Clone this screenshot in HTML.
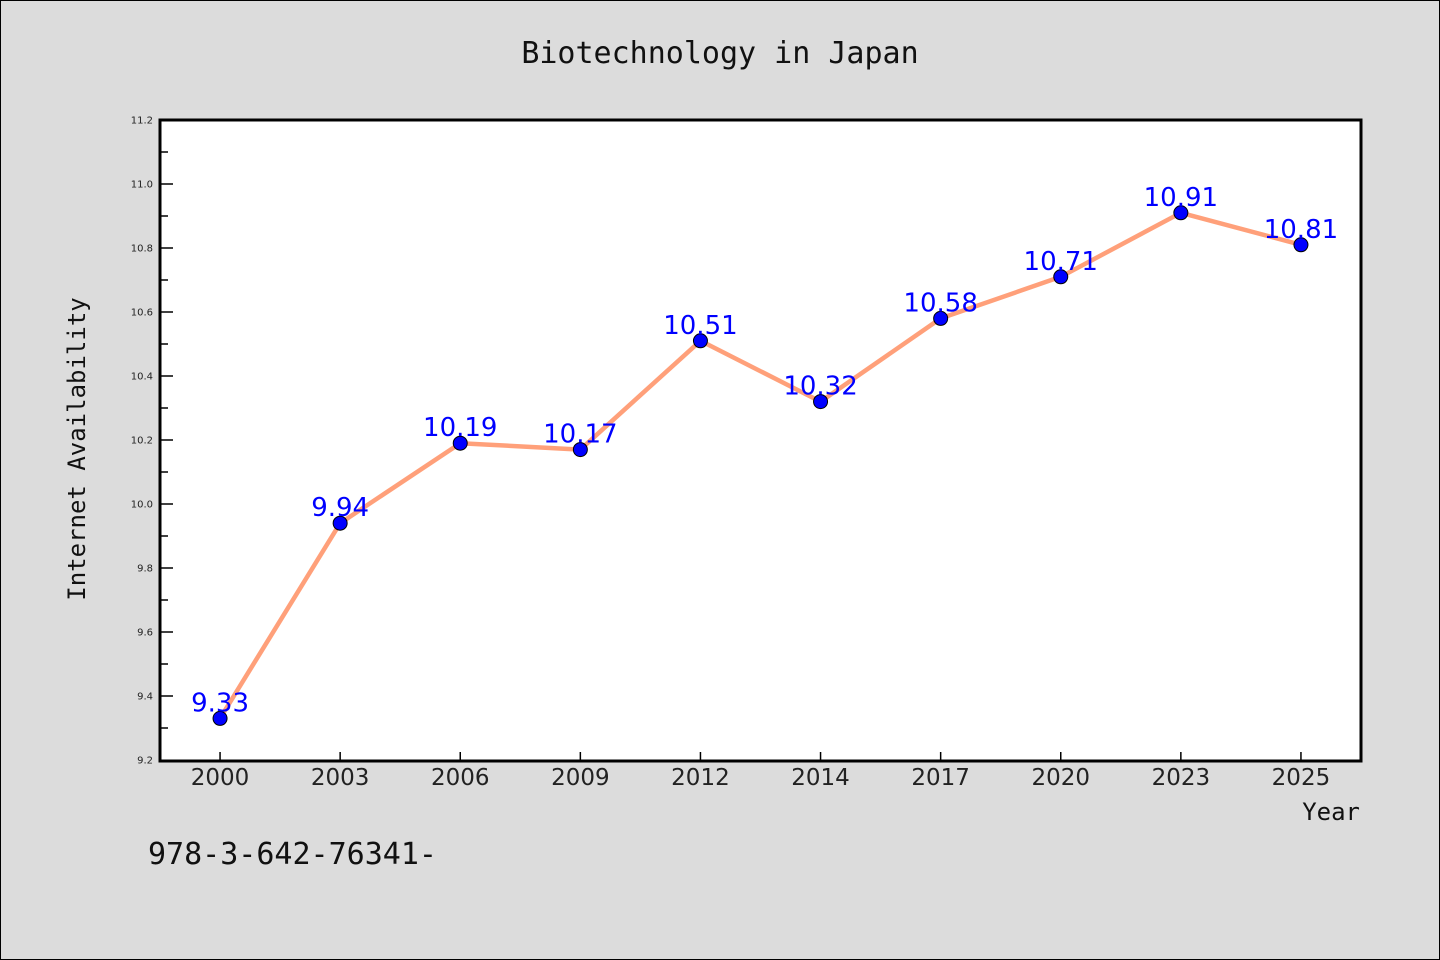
<!DOCTYPE html>
<html><head><meta charset="utf-8"><style>
body{margin:0;background:#dcdcdc;}
svg{display:block;}
</style></head><body>
<svg id="chart" width="1440" height="960" xmlns="http://www.w3.org/2000/svg">
<rect x="0.5" y="0.5" width="1439" height="959" fill="#dcdcdc" stroke="#000"/>
<text x="720" y="63" text-anchor="middle" font-family="DejaVu Sans Mono, monospace" font-size="30" fill="#111">Biotechnology in Japan</text>
<rect x="160" y="120" width="1201" height="641" fill="#fff" stroke="#000" stroke-width="3"/>
<g id="yaxis"></g>
<g id="xaxis"></g>
<text transform="translate(85,449) rotate(-90)" text-anchor="middle" font-family="DejaVu Sans Mono, monospace" font-size="24" fill="#111">Internet Availability</text>
<text x="1360" y="820" text-anchor="end" font-family="DejaVu Sans Mono, monospace" font-size="24" fill="#111">Year</text>
<text x="148" y="864" font-family="DejaVu Sans Mono, monospace" font-size="30" fill="#111">978-3-642-76341-</text>
<g id="series"></g>
</svg>
<script>
const categories=["2000","2003","2006","2009","2012","2014","2017","2020","2023","2025"];
const values=[9.33,9.94,10.19,10.17,10.51,10.32,10.58,10.71,10.91,10.81];
const valueLabels=["9.33","9.94","10.19","10.17","10.51","10.32","10.58","10.71","10.91","10.81"];
const yTicks=[9.2,9.4,9.6,9.8,10.0,10.2,10.4,10.6,10.8,11.0,11.2];
const yTickLabels=["9.2","9.4","9.6","9.8","10.0","10.2","10.4","10.6","10.8","11.0","11.2"];
const NS="http://www.w3.org/2000/svg";
const L=160,R=1361,T=120,B=760,ymin=9.2,ymax=11.2;
const band=(R-L)/categories.length;
function x(i){return L+band*(i+0.5);}
function y(v){return B-(v-ymin)/(ymax-ymin)*(B-T);}
function mk(tag,attrs,parent){const e=document.createElementNS(NS,tag);for(const k in attrs)e.setAttribute(k,attrs[k]);parent.appendChild(e);return e;}
const ya=document.getElementById('yaxis'),xa=document.getElementById('xaxis'),sg=document.getElementById('series');
yTicks.forEach((t,i)=>{
  const yy=y(t);
  if(i>0&&i<yTicks.length-1){const tk=mk('line',{x1:L,x2:L+13,y1:yy,y2:yy,stroke:'#000','stroke-width':1.5},ya);
  
  }
  if(i<yTicks.length-1){const mn=mk('line',{x1:L,x2:L+8,y1:y(t+0.1),y2:y(t+0.1),stroke:'#000','stroke-width':1.5},ya);
  
  }
  const lb=mk('text',{x:L-7,y:yy+3.5,'text-anchor':'end','font-family':'DejaVu Sans, sans-serif','font-size':10,fill:'#222'},ya);
  lb.textContent=yTickLabels[i];
  
  
});
categories.forEach((c,i)=>{
  const tk=mk('line',{x1:x(i),x2:x(i),y1:B-8,y2:B,stroke:'#000','stroke-width':1.5},xa);
  
  
  const lb=mk('text',{x:x(i),y:785,'text-anchor':'middle','font-family':'DejaVu Sans, sans-serif','font-size':23,fill:'#222'},xa);
  lb.textContent=c;
  
  
});
const pl=mk('polyline',{points:values.map((v,i)=>x(i)+','+y(v)).join(' '),fill:'none',stroke:'#FFA07A','stroke-width':4.5,'stroke-linejoin':'round'},sg);


values.forEach((v,i)=>{
  const c=mk('circle',{cx:x(i),cy:y(v),r:7,fill:'#0000ff',stroke:'#000','stroke-width':1},sg);
  
  
});
values.forEach((v,i)=>{
  const t=mk('text',{x:x(i),y:y(v)-7,'text-anchor':'middle','font-family':'DejaVu Sans, sans-serif','font-size':26,fill:'#0000ff'},sg);
  t.textContent=valueLabels[i];
  
  
});
</script>
</body></html>
